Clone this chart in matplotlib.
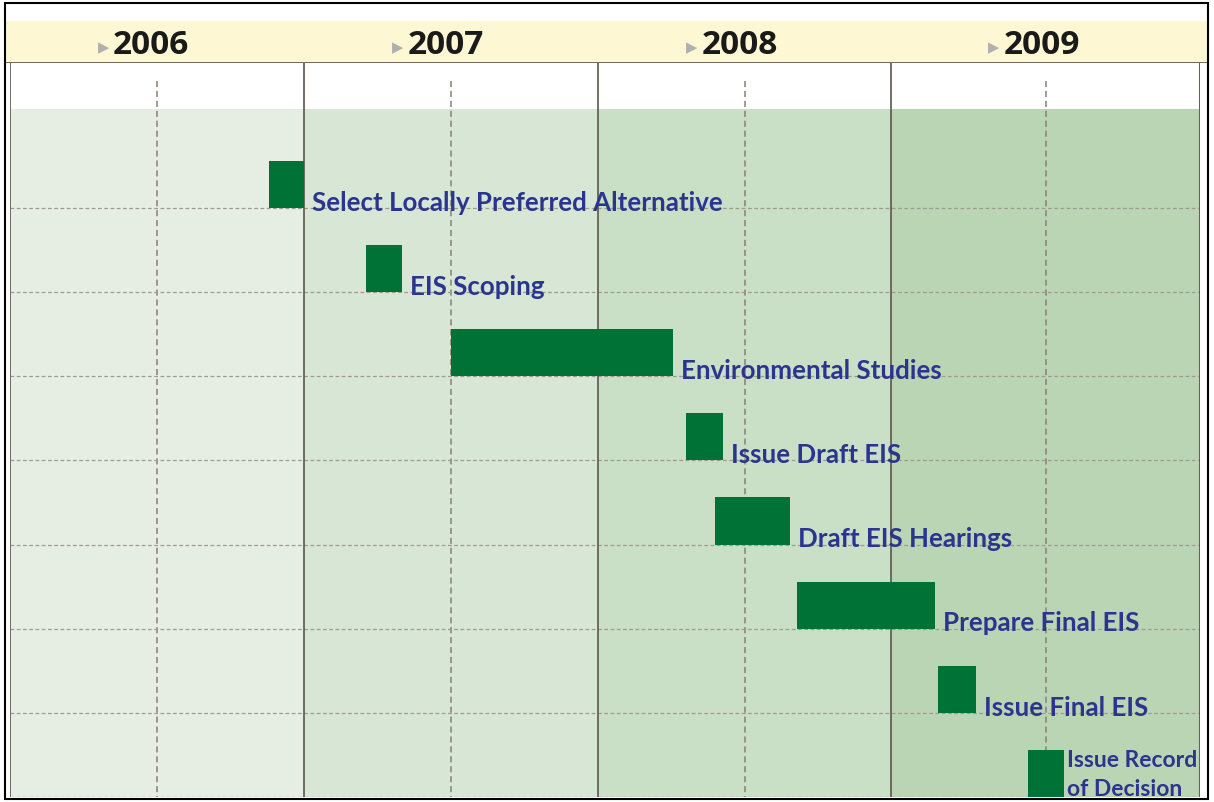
import matplotlib
matplotlib.use('Agg')
from matplotlib import pyplot as plt
from matplotlib.patches import Rectangle

# schedule data (fractional years)
tasks = ['Select Locally Preferred Alternative', 'EIS Scoping', 'Environmental Studies',
         'Issue Draft EIS', 'Draft EIS Hearings', 'Prepare Final EIS', 'Issue Final EIS',
         'Issue Record\nof Decision']
starts = [2006.88, 2007.21, 2007.50, 2008.30, 2008.40, 2008.68, 2009.16, 2009.465]
ends = [2007.00, 2007.335, 2008.257, 2008.427, 2008.655, 2009.148, 2009.288, 2009.588]
years = [2006, 2007, 2008, 2009]
year_labels = ['2006', '2007', '2008', '2009']
year_colors = ['#e6eee4', '#d7e6d5', '#c9dfc6', '#bad5b4']

x_end = 2010.05
W, H = 1214, 803
fig = plt.figure(figsize=(W / 100, H / 100), dpi=100)
fig.patch.set_facecolor('white')

# outer frame
fig.patches.append(Rectangle((5 / W, 1 - 800 / H), 1203 / W, 796 / H, transform=fig.transFigure,
                             fill=False, edgecolor='black', linewidth=1.5, zorder=10))

# header band
hax = fig.add_axes([5 / W, 1 - 64 / H, 1203 / W, 42 / H])
hax.set_facecolor('#fdf8d3')
hax.set_xlim(2006 - 5 / 293.8, x_end + 6 / 293.8)
hax.set_ylim(0, 1)
hax.set_xticks([])
hax.set_yticks([])
for s in hax.spines.values():
    s.set_visible(False)
hax.axhline(0, color='#5a5048', lw=1.2)
for yr, lab in zip(years, year_labels):
    xc = yr + 0.5 + (0.025 if yr == 2009 else 0)
    hax.text(xc - 0.02, 0.45, lab, ha='center', va='center', fontsize=24,
             fontweight='bold', family='Open Sans', color='#1a1a1a')
    hax.text(xc - 0.183, 0.38, '\u25b6', ha='center', va='center', fontsize=10.5,
             color='#b0b0b0', family='DejaVu Sans')

# main chart
ax = fig.add_axes([10 / W, 1 - 798 / H, 1190 / W, 734 / H])
row_px = 84.2
top = (64 - 209) / row_px
green_top = (110 - 209) / row_px
ax.set_xlim(2006, x_end)
ax.set_ylim(7, top)
ax.set_xticks([])
ax.set_yticks([])
for s in ax.spines.values():
    s.set_visible(False)
ax.axvline(2006, color='#6b6158', lw=1.3)
ax.axvline(x_end, color='#6b6158', lw=1.5)

bounds = years + [x_end]
for i, yr in enumerate(years):
    ax.add_patch(Rectangle((bounds[i], green_top), bounds[i + 1] - bounds[i], 7 - green_top,
                           facecolor=year_colors[i], edgecolor='none', zorder=0))
    mid = (bounds[i] + bounds[i + 1]) / 2
    ax.plot([mid, mid], [(82 - 209) / row_px, 7], color='#8a7f76', lw=1.1,
            ls=(0, (4, 2.5)), zorder=1)
    if i > 0:
        ax.axvline(yr, color='#5e554c', lw=1.2, zorder=2)

for k in range(8):
    ax.axhline(k, color='#a09a90', lw=0.9, ls=(0, (3, 2)), zorder=1)

lab_font = dict(color='#2b3590', family='Lato', fontweight='bold', zorder=4)
bar_h = 0.56
for k, (t, s0, e0) in enumerate(zip(tasks, starts, ends)):
    ax.barh(k - bar_h / 2, e0 - s0, left=s0, height=bar_h, color='#007236', zorder=3)
    if '\n' in t:
        ax.text(e0 + 0.008, k + 0.02, t, ha='left', va='bottom', fontsize=16.5,
                linespacing=1.45, **lab_font)
    else:
        ax.text(e0 + 0.027, k + 0.02, t, ha='left', va='baseline', fontsize=18.6, **lab_font)

fig.savefig('out.png', dpi=100)
